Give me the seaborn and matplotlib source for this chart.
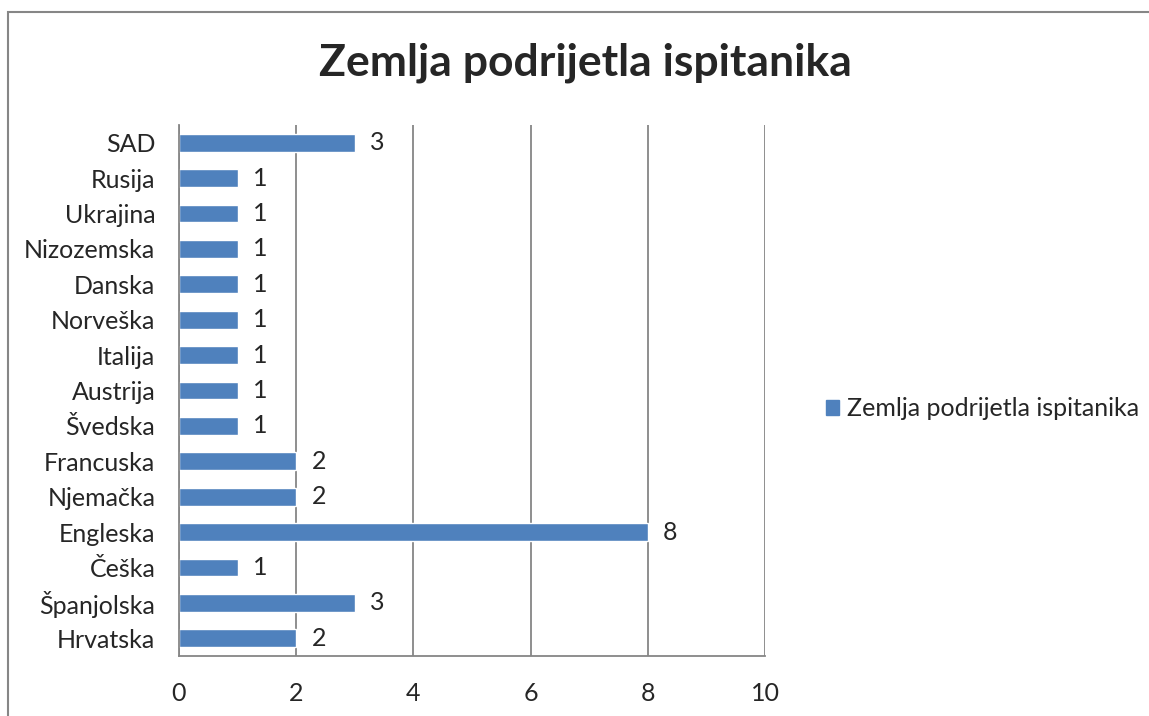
import numpy as np
import matplotlib
matplotlib.use('Agg')
import matplotlib.pyplot as plt
import matplotlib.patches as mpatches
import pandas as pd
import seaborn as sns

# Data (top to bottom)
countries = ['SAD', 'Rusija', 'Ukrajina', 'Nizozemska', 'Danska', 'Norveška',
             'Italija', 'Austrija', 'Švedska', 'Francuska', 'Njemačka',
             'Engleska', 'Češka', 'Španjolska', 'Hrvatska']
counts = [3, 1, 1, 1, 1, 1, 1, 1, 1, 2, 2, 8, 1, 3, 2]
series_name = 'Zemlja podrijetla ispitanika'
x_ticks = [0, 2, 4, 6, 8, 10]

bar_color = '#4F81BD'
grid_color = '#868686'

sns.set_style("white")
plt.rcParams['font.family'] = ['Lato', 'DejaVu Sans']

df = pd.DataFrame({'Country': countries, 'Count': counts})

fig = plt.figure(figsize=(11.49, 7.16), dpi=100)
ax = fig.add_axes([179 / 1149, 1 - 656 / 716, (765 - 179) / 1149, (656 - 125) / 716])

sns.barplot(data=df, x='Count', y='Country', order=countries, orient='h',
            color=bar_color, width=0.5, saturation=1, ax=ax)

ax.set_xlim(0, 10)
ax.set_ylim(len(countries) - 0.5, -0.5)
ax.set_xticks(x_ticks)
ax.set_xticklabels([str(t) for t in x_ticks], fontsize=18)
ax.xaxis.grid(True, color=grid_color, linewidth=1.3)
ax.set_axisbelow(True)
ax.set_xlabel('')
ax.set_ylabel('')

# category boundary ticks on the y axis
ax.set_yticks(np.arange(-0.5, len(countries), 1.0), minor=True)
ax.tick_params(axis='y', which='major', length=0, pad=17, labelsize=18)
ax.tick_params(axis='y', which='minor', length=7, width=1.3, color=grid_color, direction='out')
ax.tick_params(axis='x', which='major', length=7, width=1.3, color=grid_color,
               direction='out', pad=12)

for s in ['top', 'right']:
    ax.spines[s].set_visible(False)
for s in ['left', 'bottom']:
    ax.spines[s].set_color(grid_color)
    ax.spines[s].set_linewidth(1.3)

# data labels
for i, v in enumerate(counts):
    ax.annotate(str(v), xy=(v, i), xytext=(11, 0), textcoords='offset points',
                ha='left', va='center', fontsize=18)

# legend
handle = mpatches.Patch(color=bar_color, label=series_name)
fig.legend(handles=[handle], loc='center left', bbox_to_anchor=(803 / 1149, 1 - 409 / 716),
           frameon=False, fontsize=18, handlelength=0.55, handleheight=0.55,
           handletextpad=0.3)

fig.suptitle(series_name, x=585 / 1149, y=1 - 63 / 716, va='center',
             fontsize=32, fontweight='bold')

# outer chart frame
frame = mpatches.Rectangle((8 / 1149, -0.1), 1.2, 1 - 12 / 716 + 0.1,
                           transform=fig.transFigure, fill=False,
                           edgecolor=grid_color, linewidth=1.5)
fig.patches.append(frame)

plt.savefig('out.png', dpi=100)
